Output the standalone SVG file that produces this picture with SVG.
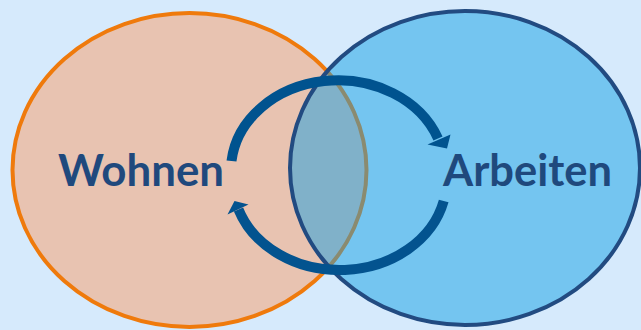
<svg xmlns="http://www.w3.org/2000/svg" width="641" height="330" viewBox="0 0 641 330">
  <defs>
    <style>
      .label { font-family: Lato, "Open Sans", "Liberation Sans", sans-serif; font-weight: 700; font-size: 44px; fill: #1f497d; }
      .flow { fill: none; stroke: #03538f; stroke-width: 10; stroke-linecap: butt; }
      .head { fill: #03538f; }
    </style>
    <clipPath id="rightArea">
      <ellipse cx="465" cy="168" rx="175" ry="157"/>
    </clipPath>
    <filter id="soft" x="-10%" y="-10%" width="120%" height="120%">
      <feGaussianBlur stdDeviation="0.7"/>
    </filter>
  </defs>

  <!-- backdrop -->
  <rect width="641" height="330" fill="#d6eafc"/>

  <!-- left set -->
  <g id="wohnen">
    <ellipse cx="189.5" cy="170" rx="177" ry="157" fill="#e8c3b1" stroke="#ef7a0c" stroke-width="4"/>
  </g>

  <!-- right set with its overlap -->
  <g id="arbeiten">
    <ellipse cx="465" cy="168" rx="175" ry="157" fill="#74c5f0"/>
    <g clip-path="url(#rightArea)">
      <ellipse cx="189.5" cy="170" rx="177" ry="157" fill="#80b1c9" stroke="#8a8b70" stroke-width="4"/>
    </g>
    <ellipse cx="465" cy="168" rx="175" ry="157" fill="none" stroke="#224b81" stroke-width="4"/>
  </g>

  <!-- cycle connectors -->
  <g id="connectors">
    <g filter="url(#soft)">
      <path class="flow" d="M231.5 161 A107 90 0 0 1 438 138.5"/>
      <polygon class="head" points="427.5,144.5 450.5,134.5 447,148.5"/>
    </g>
    <path class="flow" d="M443.7 201 A107 90 0 0 1 238.5 209.5"/>
    <polygon class="head" points="227.5,214.5 234.5,201 248.5,204.5"/>
  </g>

  <g id="labels">
    <text class="label" x="58" y="186" textLength="166" lengthAdjust="spacingAndGlyphs">Wohnen</text>
    <text class="label" x="443" y="186" textLength="169" lengthAdjust="spacingAndGlyphs">Arbeiten</text>
  </g>
</svg>
